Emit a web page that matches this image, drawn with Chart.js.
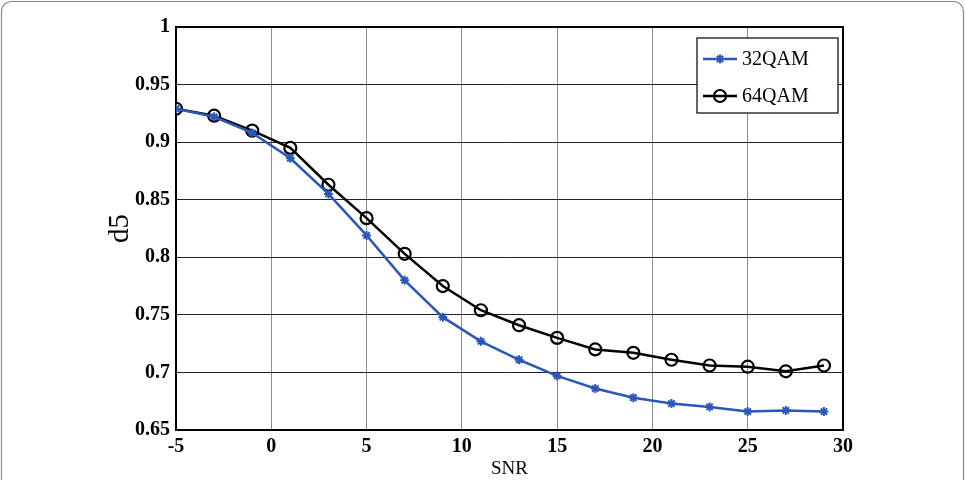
<!DOCTYPE html>
<html>
<head>
<meta charset="utf-8">
<script src="https://cdn.jsdelivr.net/npm/chart.js@4/dist/chart.umd.min.js"></script>
<style>
  html, body { margin: 0; padding: 0; background: #fff; }
  #wrap { width: 965px; height: 480px; position: relative; }
</style>
</head>
<body>
<div id="wrap"><canvas id="c" width="965" height="480"></canvas></div>
<script>
const snr = [-5, -3, -1, 1, 3, 5, 7, 9, 11, 13, 15, 17, 19, 21, 23, 25, 27, 29];
const qam32 = [0.929, 0.922, 0.908, 0.886, 0.855, 0.819, 0.780, 0.748, 0.727, 0.711, 0.697, 0.686, 0.678, 0.673, 0.670, 0.666, 0.667, 0.666];
const qam64 = [0.929, 0.923, 0.910, 0.895, 0.863, 0.834, 0.803, 0.775, 0.754, 0.741, 0.730, 0.720, 0.717, 0.711, 0.706, 0.705, 0.701, 0.706];
const xTicks = [-5, 0, 5, 10, 15, 20, 25, 30];
const yTicks = [0.65, 0.7, 0.75, 0.8, 0.85, 0.9, 0.95, 1];
const seriesNames = ['32QAM', '64QAM'];
const xTitle = 'SNR';
const yTitle = 'd5';

const BLUE = '#2b57b8';
const tickFont = { family: '"Liberation Serif", "Times New Roman", serif', size: 20, weight: 'bold' };

const framePlugin = {
  id: 'frame',
  beforeDraw(chart) {
    const ctx = chart.ctx;
    ctx.save();
    ctx.fillStyle = '#fff';
    ctx.fillRect(0, 0, chart.width, chart.height);
    ctx.strokeStyle = '#8a8a8a';
    ctx.lineWidth = 1.2;
    const r = 10, x0 = 1.5, y0 = 1.5, x1 = 963.5, y1 = 500;
    ctx.beginPath();
    ctx.moveTo(x0 + r, y0);
    ctx.lineTo(x1 - r, y0);
    ctx.arcTo(x1, y0, x1, y0 + r, r);
    ctx.lineTo(x1, y1);
    ctx.moveTo(x0, y1);
    ctx.lineTo(x0, y0 + r);
    ctx.arcTo(x0, y0, x0 + r, y0, r);
    ctx.stroke();
    ctx.restore();
  },
  beforeDatasetsDraw(chart) {
    const { ctx, chartArea: a } = chart;
    ctx.save();
    ctx.strokeStyle = '#000';
    ctx.lineWidth = 2;
    ctx.strokeRect(a.left, a.top, a.right - a.left, a.bottom - a.top);
    ctx.restore();
  },
  afterDraw(chart) {
    const ctx = chart.ctx;
    const bx = 697, by = 38, bw = 141, bh = 75;
    ctx.save();
    ctx.fillStyle = '#fff';
    ctx.fillRect(bx, by, bw, bh);
    ctx.strokeStyle = '#000';
    ctx.lineWidth = 1.2;
    ctx.strokeRect(bx, by, bw, bh);
    const rows = [59, 96];
    chart.data.datasets.forEach((ds, i) => {
      const y = rows[i];
      ctx.strokeStyle = ds.borderColor;
      ctx.lineWidth = ds.borderWidth;
      ctx.beginPath();
      ctx.moveTo(703, y);
      ctx.lineTo(737, y);
      ctx.stroke();
      ctx.strokeStyle = ds.pointBorderColor;
      ctx.fillStyle = ds.pointBackgroundColor;
      ctx.lineWidth = ds.pointBorderWidth;
      Chart.helpers.drawPoint(ctx, {
        pointStyle: ds.pointStyle,
        radius: ds.pointRadius,
        borderWidth: ds.pointBorderWidth
      }, 720, y);
      ctx.fillStyle = '#000';
      ctx.font = '20px "Liberation Serif", "Times New Roman", serif';
      ctx.textBaseline = 'middle';
      ctx.textAlign = 'left';
      ctx.fillText(ds.label, 742, y + 1);
    });
    ctx.restore();
  }
};

new Chart(document.getElementById('c'), {
  type: 'line',
  data: {
    datasets: [
      {
        label: seriesNames[0],
        data: snr.map((x, i) => ({ x, y: qam32[i] })),
        borderColor: BLUE,
        backgroundColor: BLUE,
        borderWidth: 2.5,
        pointStyle: 'star',
        pointRadius: 4.5,
        pointBorderWidth: 2,
        pointBorderColor: BLUE,
        pointBackgroundColor: BLUE,
        tension: 0,
        fill: false
      },
      {
        label: seriesNames[1],
        data: snr.map((x, i) => ({ x, y: qam64[i] })),
        borderColor: '#000',
        backgroundColor: 'rgba(0,0,0,0)',
        borderWidth: 2.5,
        pointStyle: 'circle',
        pointRadius: 6,
        pointBorderWidth: 2.2,
        pointBorderColor: '#000',
        pointBackgroundColor: 'rgba(0,0,0,0)',
        tension: 0,
        fill: false
      }
    ]
  },
  options: {
    responsive: false,
    animation: false,
    events: [],
    layout: { padding: { top: 27, right: 122, bottom: 0, left: 103 } },
    plugins: { legend: { display: false }, tooltip: { enabled: false } },
    scales: {
      x: {
        type: 'linear',
        min: xTicks[0],
        max: xTicks[xTicks.length - 1],
        afterBuildTicks(s) { s.ticks = xTicks.map(v => ({ value: v })); },
        afterFit(s) { s.height = 50; },
        grid: { color: '#8c8c8c', lineWidth: 1, drawTicks: false },
        border: { display: false },
        ticks: { color: '#000', font: tickFont, padding: 5, maxRotation: 0, autoSkip: false,
                 callback: v => String(v) },
        title: { display: true, text: xTitle, color: '#000',
                 font: { family: '"Liberation Serif", "Times New Roman", serif', size: 19 },
                 padding: { top: 1, bottom: 0 } }
      },
      y: {
        type: 'linear',
        min: yTicks[0],
        max: yTicks[yTicks.length - 1],
        afterBuildTicks(s) { s.ticks = yTicks.map(v => ({ value: v })); },
        afterFit(s) { s.width = 73; },
        grid: { color: '#222', lineWidth: 1, drawTicks: false },
        border: { display: false },
        ticks: { color: '#000', font: tickFont, padding: 6, autoSkip: false,
                 callback: v => String(parseFloat(v.toFixed(2))) },
        title: { display: true, text: yTitle, color: '#000',
                 font: { family: '"Liberation Serif", "Times New Roman", serif', size: 29 },
                 padding: { top: 0, bottom: 0 } }
      }
    }
  },
  plugins: [framePlugin]
});
</script>
</body>
</html>
